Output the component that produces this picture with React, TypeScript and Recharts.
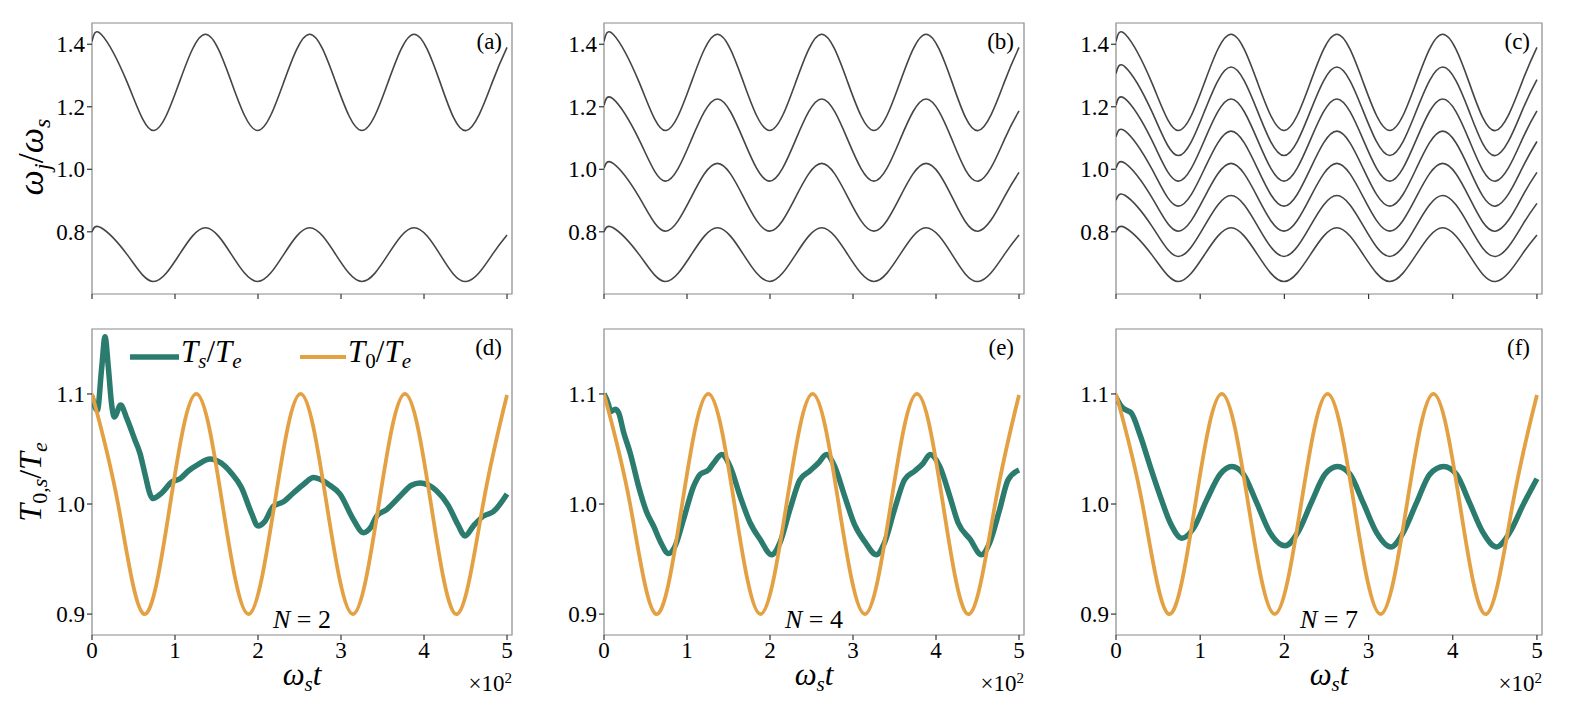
import React from 'react';
import { LineChart, Line, XAxis, YAxis, ReferenceArea } from 'recharts';

// ---------- data ----------
const X_TICKS = [0, 1, 2, 3, 4, 5];
const Y_TICKS_TOP = [0.8, 1.0, 1.2, 1.4];
const Y_TICKS_BOTTOM = [0.9, 1.0, 1.1];
const PANEL_LETTERS = ['(a)', '(b)', '(c)', '(d)', '(e)', '(f)'];
const N_VALUES = [2, 4, 7];

// times (x10^2) at which the mode frequencies were read
const T_MODES = [0, 0.11, 0.424, 0.738, 1.052, 1.367, 1.681, 1.995, 2.309, 2.623, 2.937, 3.252, 3.566, 3.88, 4.194, 4.508, 4.822, 5.0];
const W1 = [1.409, 1.432, 1.278, 1.124, 1.278, 1.432, 1.278, 1.124, 1.278, 1.432, 1.278, 1.124, 1.278, 1.432, 1.278, 1.124, 1.278, 1.39];
const W2 = [1.306, 1.327, 1.186, 1.044, 1.186, 1.327, 1.186, 1.044, 1.186, 1.327, 1.186, 1.044, 1.186, 1.327, 1.186, 1.044, 1.186, 1.287];
const W3 = [1.205, 1.225, 1.094, 0.962, 1.094, 1.225, 1.094, 0.962, 1.094, 1.225, 1.094, 0.962, 1.094, 1.225, 1.094, 0.962, 1.094, 1.187];
const W4 = [1.104, 1.122, 1.002, 0.882, 1.002, 1.122, 1.002, 0.882, 1.002, 1.122, 1.002, 0.882, 1.002, 1.122, 1.002, 0.882, 1.002, 1.089];
const W5 = [1.003, 1.019, 0.911, 0.802, 0.911, 1.019, 0.911, 0.802, 0.911, 1.019, 0.911, 0.802, 0.911, 1.019, 0.911, 0.802, 0.911, 0.99];
const W6 = [0.901, 0.916, 0.819, 0.721, 0.819, 0.916, 0.819, 0.721, 0.819, 0.916, 0.819, 0.721, 0.819, 0.916, 0.819, 0.721, 0.819, 0.891];
const W7 = [0.8, 0.813, 0.727, 0.641, 0.727, 0.813, 0.727, 0.641, 0.727, 0.813, 0.727, 0.641, 0.727, 0.813, 0.727, 0.641, 0.727, 0.79];

// T0/Te (bath temperature)
const T_BATH = [0, 0.314, 0.628, 0.942, 1.257, 1.571, 1.885, 2.199, 2.513, 2.827, 3.142, 3.456, 3.77, 4.084, 4.398, 4.712, 5.0];
const V_BATH = [1.1, 1.0, 0.9, 1.0, 1.1, 1.0, 0.9, 1.0, 1.1, 1.0, 0.9, 1.0, 1.1, 1.0, 0.9, 1.0, 1.099];

// Ts/Te, N = 2
const T_TS2 = [0, 0.064, 0.117, 0.157, 0.197, 0.237, 0.269, 0.345, 0.418, 0.518, 0.578, 0.639, 0.699, 0.731, 0.84, 0.96, 1.06, 1.16, 1.28, 1.42, 1.56, 1.68, 1.8, 1.92, 2.0, 2.08, 2.185, 2.305, 2.426, 2.55, 2.67, 2.847, 2.988, 3.149, 3.27, 3.35, 3.43, 3.55, 3.71, 3.85, 3.95, 4.15, 4.29, 4.41, 4.494, 4.594, 4.715, 4.835, 5.0];
const V_TS2 = [1.098, 1.085, 1.124, 1.152, 1.124, 1.09, 1.079, 1.09, 1.078, 1.058, 1.046, 1.027, 1.009, 1.005, 1.01, 1.02, 1.023, 1.03, 1.036, 1.041, 1.037, 1.028, 1.015, 0.992, 0.98, 0.984, 0.998, 1.002, 1.01, 1.018, 1.024, 1.018, 1.009, 0.986, 0.974, 0.978, 0.989, 0.995, 1.007, 1.017, 1.019, 1.012, 0.999, 0.981, 0.971, 0.98, 0.989, 0.993, 1.009];

// Ts/Te, N = 4
const T_TS4 = [0, 0.056, 0.076, 0.136, 0.176, 0.237, 0.317, 0.417, 0.517, 0.597, 0.678, 0.778, 0.858, 0.958, 1.079, 1.159, 1.259, 1.319, 1.419, 1.52, 1.64, 1.76, 1.88, 2.02, 2.12, 2.24, 2.36, 2.48, 2.58, 2.68, 2.78, 2.9, 3.02, 3.14, 3.28, 3.38, 3.5, 3.62, 3.745, 3.845, 3.93, 4.046, 4.166, 4.266, 4.41, 4.547, 4.647, 4.767, 4.868, 5.0];
const V_TS4 = [1.1, 1.09, 1.084, 1.086, 1.083, 1.065, 1.046, 1.016, 0.992, 0.98, 0.966, 0.955, 0.962, 0.986, 1.016, 1.027, 1.031, 1.037, 1.045, 1.034, 1.007, 0.983, 0.968, 0.954, 0.965, 0.995, 1.022, 1.03, 1.037, 1.045, 1.034, 1.007, 0.981, 0.966, 0.954, 0.965, 0.995, 1.022, 1.03, 1.037, 1.045, 1.034, 1.007, 0.983, 0.968, 0.954, 0.965, 0.995, 1.022, 1.031];

// Ts/Te, N = 7
const T_TS7 = [0, 0.071, 0.13, 0.178, 0.289, 0.407, 0.526, 0.644, 0.783, 0.921, 1.079, 1.237, 1.375, 1.514, 1.672, 1.83, 2.008, 2.166, 2.324, 2.482, 2.632, 2.779, 2.937, 3.095, 3.265, 3.411, 3.569, 3.727, 3.893, 4.043, 4.2, 4.36, 4.518, 4.676, 4.834, 5.0];
const V_TS7 = [1.097, 1.088, 1.085, 1.083, 1.062, 1.034, 1.007, 0.983, 0.969, 0.978, 1.004, 1.027, 1.034, 1.027, 1.001, 0.974, 0.962, 0.975, 1.002, 1.027, 1.034, 1.027, 1.001, 0.974, 0.961, 0.974, 1.001, 1.027, 1.034, 1.027, 1.001, 0.974, 0.961, 0.974, 0.999, 1.023];

// ---------- styling / layout ----------
const TEAL = '#2b7c6e';
const ORANGE = '#e3a144';
const GRAY = '#454545';
const FONT = "'Liberation Serif', 'DejaVu Serif', 'Times New Roman', Times, serif";
const X_DOMAIN: [number, number] = [0, 5.06];
const Y_DOMAIN_TOP: [number, number] = [0.601, 1.468];
const Y_DOMAIN_BOTTOM: [number, number] = [0.881, 1.159];

const COL_LEFT = [92, 604, 1116];
const COL_WIDTH = [420, 420, 426];
const ROW_TOP = [23, 329];
const ROW_HEIGHT = [271, 306];

const zip = (ts: number[], vs: number[]) => ts.map((t, i) => ({ t, v: vs[i] }));

type Series = { data: { t: number; v: number }[]; color: string; width: number; curve: 'natural' | 'monotoneX' };

const modes = (arr: number[][]): Series[] =>
  arr.map((w) => ({ data: zip(T_MODES, w), color: GRAY, width: 1.6, curve: 'natural' }));

const bathSeries: Series = { data: zip(T_BATH, V_BATH), color: ORANGE, width: 3.8, curve: 'natural' };
const tsSeries = (ts: number[], vs: number[]): Series => ({ data: zip(ts, vs), color: TEAL, width: 5.5, curve: 'monotoneX' });

const PANEL_SERIES: Series[][] = [
  modes([W1, W7]),
  modes([W1, W3, W5, W7]),
  modes([W1, W2, W3, W4, W5, W6, W7]),
  [tsSeries(T_TS2, V_TS2), bathSeries],
  [tsSeries(T_TS4, V_TS4), bathSeries],
  [tsSeries(T_TS7, V_TS7), bathSeries],
];

const PAD_L = 80;
const PAD_R = 10;
const PAD_T = 10;

const txt = (size: number, extra: React.CSSProperties = {}): React.CSSProperties => ({
  fontFamily: FONT,
  fontSize: size,
  fill: '#000',
  ...extra,
});

function TickText(props: any) {
  const { x, y, payload, textAnchor, bottom, show } = props;
  if (!show) return null;
  const label = bottom ? String(payload.value) : Number(payload.value).toFixed(1);
  return (
    <text x={x} y={y} textAnchor={textAnchor} dy={bottom ? '0.71em' : '0.355em'} style={txt(23)}>
      {label}
    </text>
  );
}

function Panel({ idx }: { idx: number }) {
  const col = idx % 3;
  const row = Math.floor(idx / 3);
  const left = COL_LEFT[col];
  const top = ROW_TOP[row];
  const w = COL_WIDTH[col];
  const h = ROW_HEIGHT[row];
  const bottomRow = row === 1;
  const padB = bottomRow ? 40 : 14;
  const yDomain = bottomRow ? Y_DOMAIN_BOTTOM : Y_DOMAIN_TOP;
  const yTicks = bottomRow ? Y_TICKS_BOTTOM : Y_TICKS_TOP;
  return (
    <div style={{ position: 'absolute', left: left - PAD_L, top: top - PAD_T }}>
      <LineChart
        width={w + PAD_L + PAD_R}
        height={h + PAD_T + padB}
        margin={{ top: PAD_T, right: PAD_R, bottom: 0, left: 0 }}
      >
        <XAxis
          type="number"
          dataKey="t"
          domain={X_DOMAIN}
          ticks={X_TICKS}
          allowDataOverflow
          height={padB}
          axisLine={false}
          tickLine={{ stroke: '#333', strokeWidth: 1.2 }}
          tickSize={5}
          tickMargin={2}
          tick={<TickText bottom show={bottomRow} />}
        />
        <YAxis
          type="number"
          dataKey="v"
          domain={yDomain}
          ticks={yTicks}
          allowDataOverflow
          width={PAD_L}
          axisLine={false}
          tickLine={{ stroke: '#333', strokeWidth: 1.2 }}
          tickSize={5}
          tickMargin={2}
          tick={<TickText bottom={false} show />}
        />
        <ReferenceArea
          x1={X_DOMAIN[0]}
          x2={X_DOMAIN[1]}
          y1={yDomain[0]}
          y2={yDomain[1]}
          fill="none"
          fillOpacity={0}
          stroke="#8a8a8a"
          strokeWidth={1.2}
          ifOverflow="visible"
        />
        {PANEL_SERIES[idx].map((s, i) => (
          <Line
            key={i}
            data={s.data}
            dataKey="v"
            type={s.curve}
            stroke={s.color}
            strokeWidth={s.width}
            dot={false}
            activeDot={false}
            isAnimationActive={false}
          />
        ))}
      </LineChart>
    </div>
  );
}

const IT: React.CSSProperties = { fontStyle: 'italic' };

function Overlay() {
  const letters = PANEL_LETTERS.map((lab, i) => {
    const col = i % 3;
    const row = Math.floor(i / 3);
    const right = COL_LEFT[col] + COL_WIDTH[col] - (col === 2 ? 12 : 10);
    const y = row === 0 ? 49 : 355;
    return (
      <text key={lab} x={right} y={y} textAnchor="end" style={txt(23)}>
        {lab}
      </text>
    );
  });
  const bottomTexts = [0, 1, 2].map((col) => {
    const cx = COL_LEFT[col] + COL_WIDTH[col] / 2;
    const right = COL_LEFT[col] + COL_WIDTH[col];
    return (
      <g key={col}>
        <text x={cx} y={628} textAnchor="middle" style={txt(26)}>
          <tspan style={IT}>N</tspan>
          <tspan> = {N_VALUES[col]}</tspan>
        </text>
        <text x={cx} y={685} textAnchor="middle" style={txt(31, IT)}>
          ω<tspan style={{ fontSize: 21 }} dy={6}>s</tspan>
          <tspan dy={-6}>t</tspan>
        </text>
        <text x={right} y={691} textAnchor="end" style={txt(23)}>
          ×10<tspan style={{ fontSize: 15 }} dy={-8}>2</tspan>
        </text>
      </g>
    );
  });
  return (
    <svg
      width={1578}
      height={710}
      style={{ position: 'absolute', left: 0, top: 0, pointerEvents: 'none' }}
    >
      {letters}
      {bottomTexts}
      {/* y label, top row */}
      <text x={43} y={157} transform="rotate(-90 43 157)" textAnchor="middle" style={txt(36)}>
        <tspan style={IT}>ω</tspan>
        <tspan style={{ ...IT, fontSize: 24 }} dy={7}>j</tspan>
        <tspan dy={-7}>/</tspan>
        <tspan style={IT}>ω</tspan>
        <tspan style={{ ...IT, fontSize: 24 }} dy={7}>s</tspan>
      </text>
      {/* y label, bottom row */}
      <text x={41} y={482} transform="rotate(-90 41 482)" textAnchor="middle" style={txt(32)}>
        <tspan style={IT}>T</tspan>
        <tspan style={{ fontSize: 22 }} dy={6}>0,</tspan>
        <tspan style={{ ...IT, fontSize: 22 }}>s</tspan>
        <tspan dy={-6}>/</tspan>
        <tspan style={IT}>T</tspan>
        <tspan style={{ ...IT, fontSize: 22 }} dy={6}>e</tspan>
      </text>
      {/* legend */}
      <line x1={130} y1={357} x2={179} y2={357} stroke={TEAL} strokeWidth={5.5} />
      <text x={181} y={362} style={txt(31)}>
        <tspan style={IT}>T</tspan>
        <tspan style={{ ...IT, fontSize: 21 }} dy={6}>s</tspan>
        <tspan dy={-6}>/</tspan>
        <tspan style={IT}>T</tspan>
        <tspan style={{ ...IT, fontSize: 21 }} dy={6}>e</tspan>
      </text>
      <line x1={300} y1={357} x2={346} y2={357} stroke={ORANGE} strokeWidth={3.8} />
      <text x={348} y={362} style={txt(31)}>
        <tspan style={IT}>T</tspan>
        <tspan style={{ fontSize: 21 }} dy={6}>0</tspan>
        <tspan dy={-6}>/</tspan>
        <tspan style={IT}>T</tspan>
        <tspan style={{ ...IT, fontSize: 21 }} dy={6}>e</tspan>
      </text>
    </svg>
  );
}

export default function App() {
  return (
    <div
      style={{
        position: 'absolute',
        left: 0,
        top: 0,
        width: 1578,
        height: 710,
        background: '#fff',
        overflow: 'hidden',
      }}
    >
      {[0, 1, 2, 3, 4, 5].map((i) => (
        <Panel key={i} idx={i} />
      ))}
      <Overlay />
    </div>
  );
}
